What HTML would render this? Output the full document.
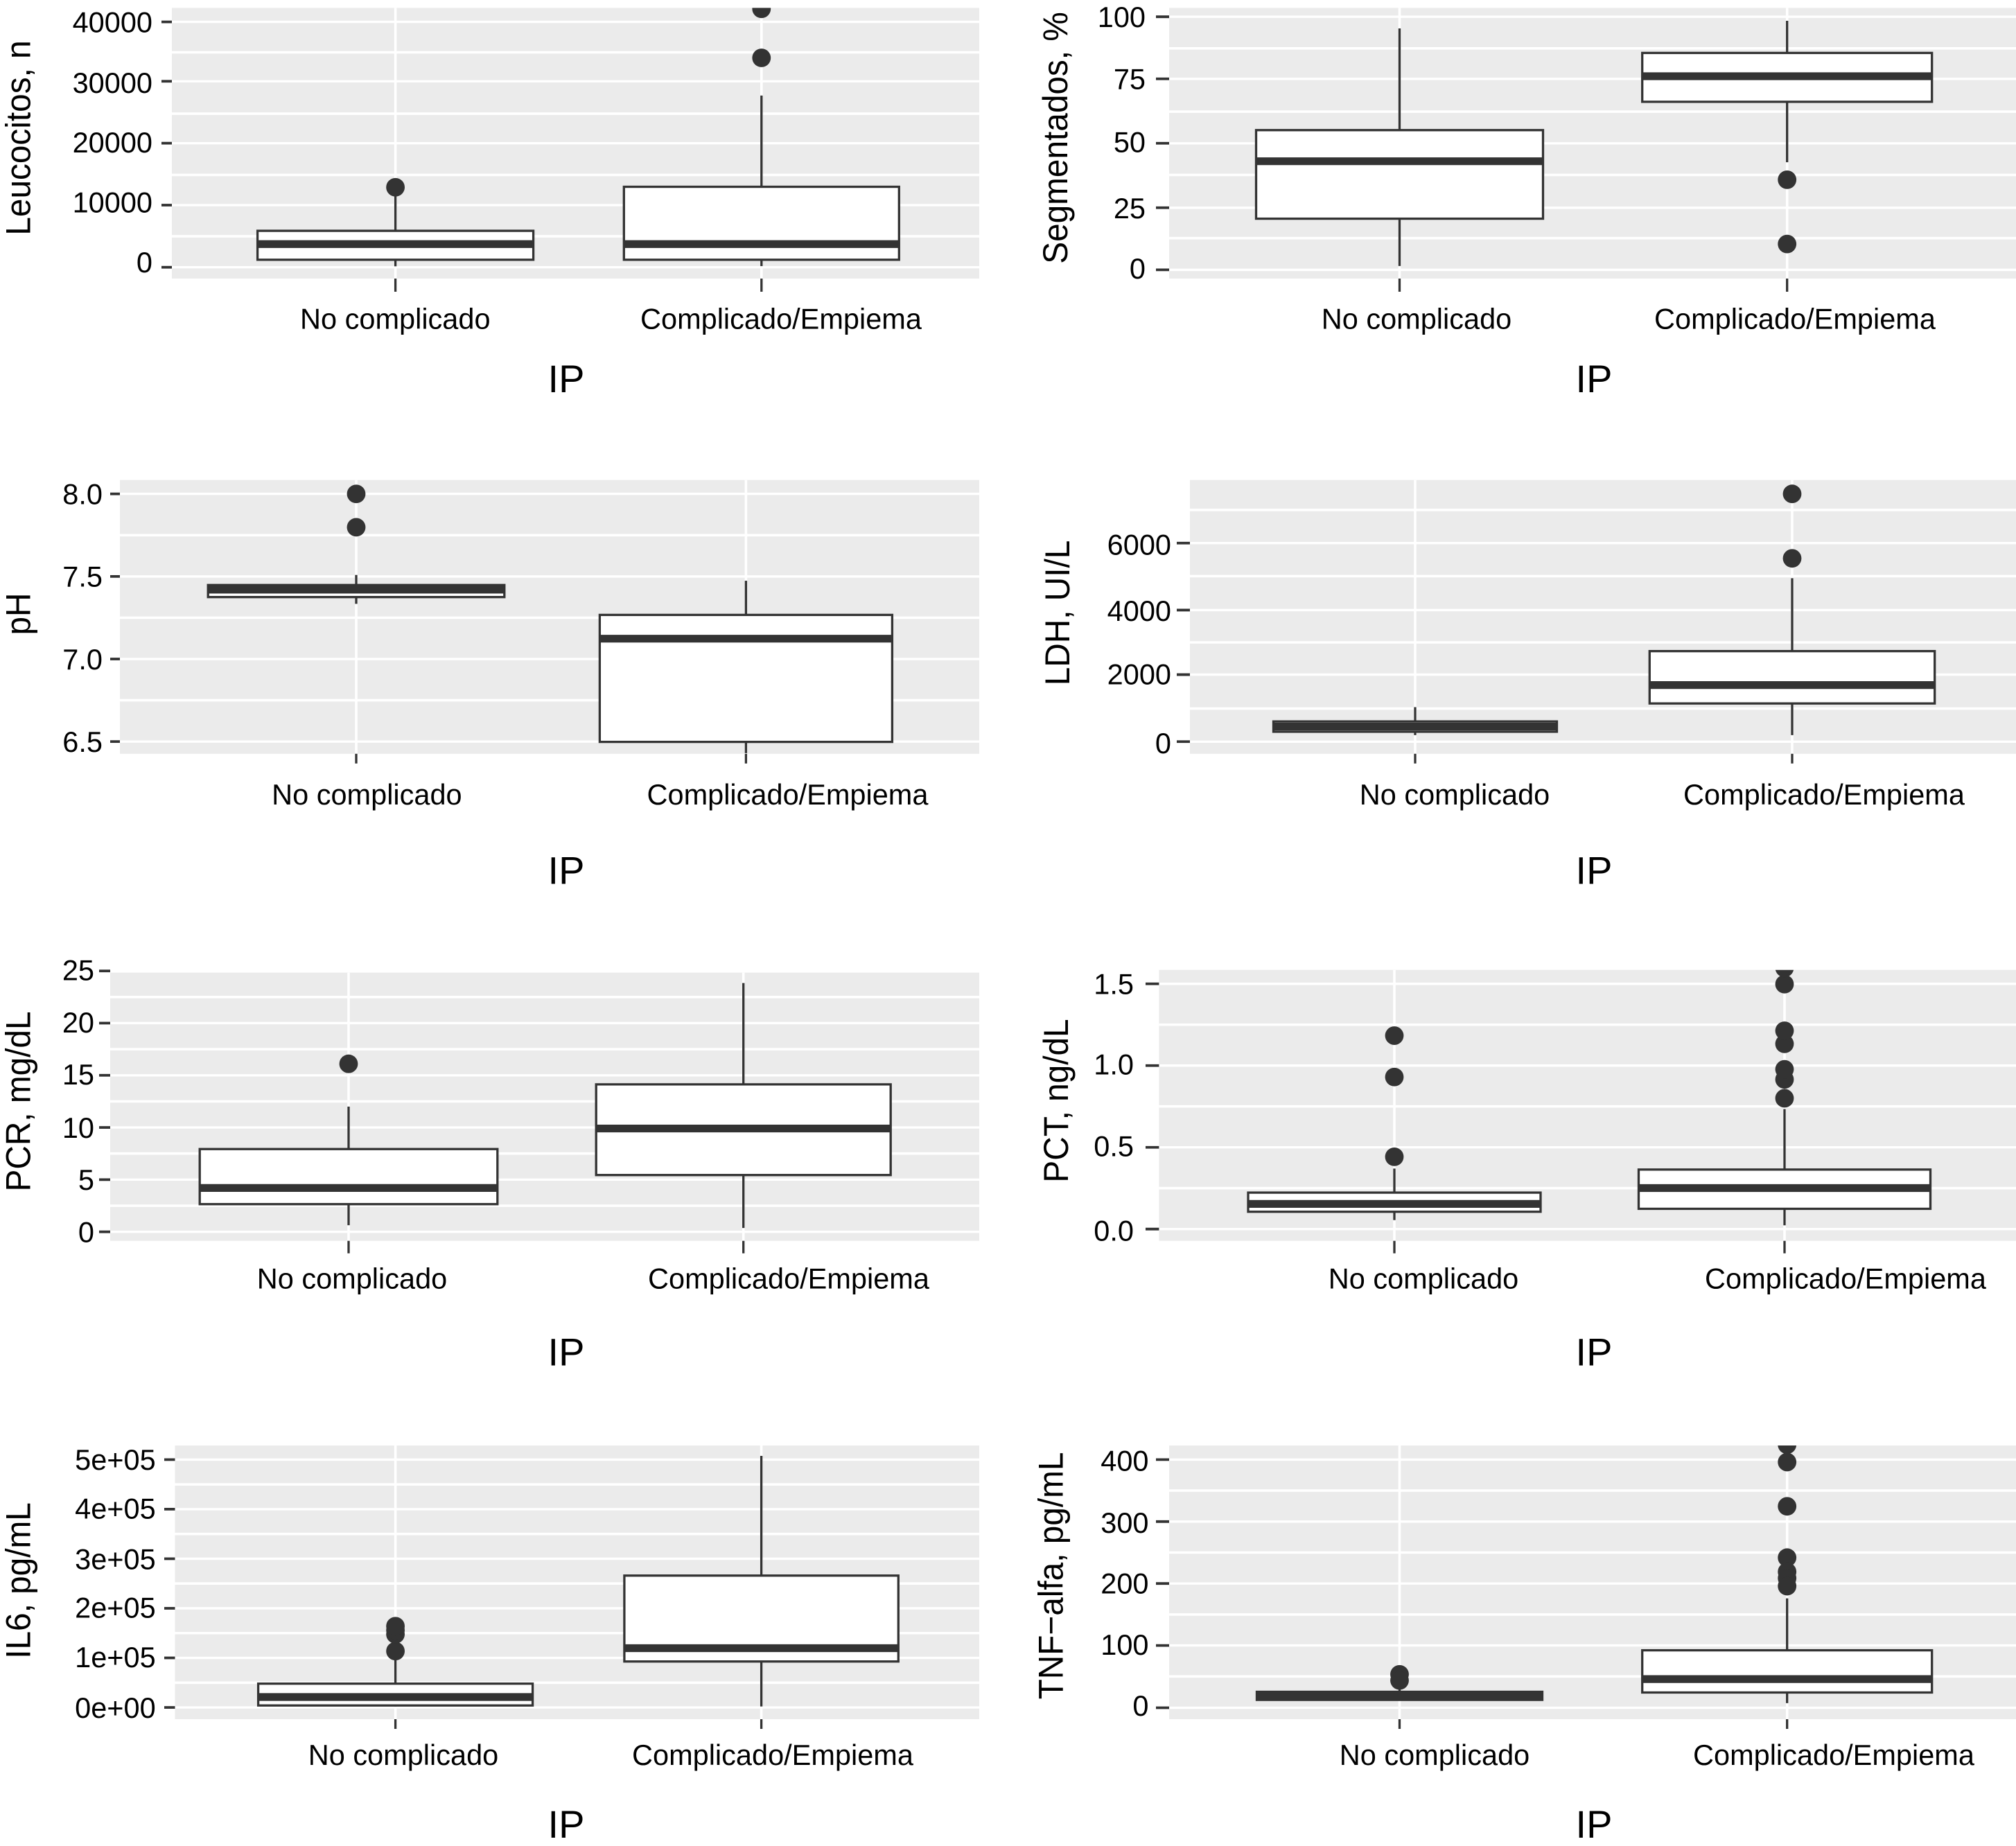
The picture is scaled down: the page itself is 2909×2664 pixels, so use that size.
<!DOCTYPE html>
<html lang="es">
<head>
<meta charset="utf-8">
<title>Biomarcadores por tipo de IP</title>
<style>
html,body{margin:0;padding:0;background:#fff;}
#chart-figure{display:block;width:2909px;height:2664px;font-family:"Liberation Sans",Arial,sans-serif;}
</style>
</head>
<body>
<svg id="chart-figure" xmlns="http://www.w3.org/2000/svg" width="2909" height="2664" viewBox="0 0 2909 2664"></svg>
<script>
const categories = ["No complicado", "Complicado/Empiema"];
const xAxisTitle = "IP";

// Each box: [whisker low, Q1, median, Q3, whisker high]
const leucocitosTicks = [0, 10000, 20000, 30000, 40000];
const leucocitosTickLabels = ["0", "10000", "20000", "30000", "40000"];
const leucocitosBoxes = [[100, 1170, 3720, 5890, 12000], [130, 1170, 3720, 13070, 27960]];
const leucocitosOutliers = [[12990], [34100, 42100]];

const segmentadosTicks = [0, 25, 50, 75, 100];
const segmentadosTickLabels = ["0", "25", "50", "75", "100"];
const segmentadosBoxes = [[1.5, 20.2, 42.9, 55.2, 95.4], [42.5, 66.4, 76.5, 85.7, 98.4]];
const segmentadosOutliers = [[], [35.6, 10.2]];

const phTicks = [6.5, 7, 7.5, 8];
const phTickLabels = ["6.5", "7.0", "7.5", "8.0"];
const phBoxes = [[7.334, 7.375, 7.42, 7.448, 7.509], [6.43, 6.498, 7.123, 7.267, 7.474]];
const phOutliers = [[8.0, 7.798], []];

const ldhTicks = [0, 2000, 4000, 6000];
const ldhTickLabels = ["0", "2000", "4000", "6000"];
const ldhBoxes = [[197, 300, 455, 610, 1043], [197, 1154, 1709, 2735, 4940]];
const ldhOutliers = [[], [7487, 5538]];

const pcrTicks = [0, 5, 10, 15, 20, 25];
const pcrTickLabels = ["0", "5", "10", "15", "20", "25"];
const pcrBoxes = [[0.63, 2.65, 4.2, 7.93, 12], [0.37, 5.44, 9.9, 14.13, 23.84]];
const pcrOutliers = [[16.1], []];

const pctTicks = [0, 0.5, 1, 1.5];
const pctTickLabels = ["0.0", "0.5", "1.0", "1.5"];
const pctBoxes = [[0.055, 0.106, 0.154, 0.223, 0.37], [0.023, 0.124, 0.251, 0.364, 0.734]];
const pctOutliers = [[1.183, 0.93, 0.442], [0.8, 0.915, 0.977, 1.133, 1.213, 1.498, 1.597]];

const il6Ticks = [0, 100000, 200000, 300000, 400000, 500000];
const il6TickLabels = ["0e+00", "1e+05", "2e+05", "3e+05", "4e+05", "5e+05"];
const il6Boxes = [[2000, 4000, 21000, 48000, 96500], [2000, 92700, 119600, 266000, 507500]];
const il6Outliers = [[113700, 147600, 155700, 164000], []];

const tnfTicks = [0, 100, 200, 300, 400];
const tnfTickLabels = ["0", "100", "200", "300", "400"];
const tnfBoxes = [[12.2, 12.2, 18.5, 25.2, 29.7], [6.9, 24.1, 45.7, 92.2, 176]];
const tnfOutliers = [[53.4, 43.5], [396, 324.6, 241.8, 219, 208.6, 195.7, 424]];

// Layout of each panel in the figure (not data)
const panels = [
 {key:"leucocitos",title:"Leucocitos, n",ticks:leucocitosTicks,labels:leucocitosTickLabels,boxes:leucocitosBoxes,outliers:leucocitosOutliers,
  domain:[-1900,42250],rect:[248,1413,11.4,402],cx:[570.6,1098.8],hw:[199,198.5],labelX:[570.3,1127],labelY:474.5,ipX:817,ipY:566,tickL:233,yLabelR:220,tickB:19,titleX:43.5,titleY:199,
  tickShift:[0.5,-0.7,-1.6,-2.5,0.3],labelShift:[-7.2,-5,-3.3,-0.8,0.3]},
 {key:"segmentados",title:"Segmentados, %",ticks:segmentadosTicks,labels:segmentadosTickLabels,boxes:segmentadosBoxes,outliers:segmentadosOutliers,
  domain:[-3.46,103.5],rect:[1687,2909,11.4,402],cx:[2019.5,2578.7],hw:[207,209],labelX:[2044,2590],labelY:474.5,ipX:2300,ipY:566,tickL:1668,yLabelR:1653,tickB:19,titleX:1540,titleY:199,
  tickShift:[0,1.7,0,-1.7,0],labelShift:[-2,2,-2,-2,0]},
 {key:"ph",title:"pH",ticks:phTicks,labels:phTickLabels,boxes:phBoxes,outliers:phOutliers,
  domain:[6.426,8.084],rect:[173,1413,692.7,1087.8],cx:[514,1076.4],hw:[213.8,211],labelX:[529.4,1136.5],labelY:1161,ipX:817,ipY:1275.5,tickL:159,yLabelR:148,tickB:14,titleX:43.5,titleY:886,
  tickShift:[0,0,0,0],labelShift:[0,0,0,0]},
 {key:"ldh",title:"LDH, UI/L",ticks:ldhTicks,labels:ldhTickLabels,boxes:ldhBoxes,outliers:ldhOutliers,
  domain:[-367,7906],rect:[1717,2909,692.7,1087.8],cx:[2042,2586],hw:[204.5,205.7],labelX:[2099,2632],labelY:1161,ipX:2300,ipY:1275.5,tickL:1698,yLabelR:1690,tickB:14,titleX:1543,titleY:884.5,
  tickShift:[0,-1.2,1.2,0],labelShift:[2,-2,2,2]},
 {key:"pcr",title:"PCR, mg/dL",ticks:pcrTicks,labels:pcrTickLabels,boxes:pcrBoxes,outliers:pcrOutliers,
  domain:[-0.867,24.84],rect:[159,1413,1403.6,1790.7],cx:[503,1072.7],hw:[214.8,212.5],labelX:[508,1138],labelY:1859.5,ipX:817,ipY:1970.5,tickL:143,yLabelR:136,tickB:18,titleX:43.5,titleY:1589.5,
  tickShift:[0,0,0,0,0,0],labelShift:[0,0,0,-1.5,-1.5,-1.5]},
 {key:"pct",title:"PCT, ng/dL",ticks:pctTicks,labels:pctTickLabels,boxes:pctBoxes,outliers:pctOutliers,
  domain:[-0.072,1.585],rect:[1672.4,2909,1399.7,1790.7],cx:[2012,2575],hw:[211,210.5],labelX:[2054,2663],labelY:1859.5,ipX:2300,ipY:1970.5,tickL:1653,yLabelR:1636,tickB:18,titleX:1541,titleY:1588.5,
  tickShift:[0,0,0,0],labelShift:[2,-2,-2,0]},
 {key:"il6",title:"IL6, pg/mL",ticks:il6Ticks,labels:il6TickLabels,boxes:il6Boxes,outliers:il6Outliers,
  domain:[-23700,528500],rect:[252.5,1413,2086,2481],cx:[570.6,1098.6],hw:[198,197.7],labelX:[582,1115],labelY:2547,ipX:817,ipY:2652,tickL:237,yLabelR:224.7,tickB:14,titleX:43.5,titleY:2281,
  tickShift:[0,0,0,0,0,0],labelShift:[0,-1.5,-1.5,0,-1.5,0]},
 {key:"tnf",title:"TNF\u2212alfa, pg/mL",ticks:tnfTicks,labels:tnfTickLabels,boxes:tnfBoxes,outliers:tnfOutliers,
  domain:[-19,422.8],rect:[1687,2909,2086,2481],cx:[2019.5,2578.7],hw:[206,209],labelX:[2070,2646],labelY:2547,ipX:2300,ipY:2652,tickL:1668,yLabelR:1657.5,tickB:14,titleX:1533.5,titleY:2274,
  tickShift:[0.5,0,0,0,0],labelShift:[-3,-1.7,-0.7,1.3,1.3]}
];

const SVGNS = "http://www.w3.org/2000/svg";
const INK = "#333333", PANEL_BG = "#EBEBEB", LW = 3.3, FS = 41.5, TITLE_FS = 50, TITLE_SQUEEZE = 0.955, IP_FS = 56;
const figure = document.getElementById("chart-figure");

function make(tag, attrs, parent, text) {
  const node = document.createElementNS(SVGNS, tag);
  for (const k in attrs) node.setAttribute(k, attrs[k]);
  if (text !== undefined) node.textContent = text;
  parent.appendChild(node);
  return node;
}

function drawPanel(p) {
  const [left, right, top, bottom] = p.rect;
  const [d0, d1] = p.domain;
  const y = v => bottom - (v - d0) / (d1 - d0) * (bottom - top);

  const g = make("g", {}, figure);
  
  

  const defs = make("defs", {}, g);
  const clip = make("clipPath", {id: "clip-" + p.key}, defs);
  make("rect", {x: left, y: top, width: right - left, height: bottom - top}, clip);

  const bg = make("rect", {x: left, y: top, width: right - left, height: bottom - top, fill: PANEL_BG}, g);
  
  

  const plot = make("g", {"clip-path": "url(#clip-" + p.key + ")"}, g);
  
  

  // grid
  const step = p.ticks[1] - p.ticks[0];
  const minors = [p.ticks[0] - step / 2];
  p.ticks.forEach(t => minors.push(t + step / 2));
  minors.forEach(v => {
    if (v <= d0 || v >= d1) return;
    const line = make("line", {x1: left, x2: right, y1: y(v), y2: y(v), stroke: "#fff", "stroke-width": 3.6}, plot);
    
    
  });
  p.ticks.forEach((v, i) => {
    const gy = y(v) + p.tickShift[i];
    const line = make("line", {x1: left, x2: right, y1: gy, y2: gy, stroke: "#fff", "stroke-width": 3.4}, plot);
    
    
  });
  p.cx.forEach(cx => {
    const line = make("line", {x1: cx, x2: cx, y1: top, y2: bottom, stroke: "#fff", "stroke-width": 3.6}, plot);
    
    
  });

  // boxes
  p.boxes.forEach((b, i) => {
    const cx = p.cx[i], hw = p.hw[i];
    const [lo, q1, med, q3, hi] = b;
    const box = make("g", {}, plot);
    
    

    const upper = make("line", {x1: cx, x2: cx, y1: y(q3), y2: y(hi), stroke: INK, "stroke-width": LW}, box);
    
    

    const lower = make("line", {x1: cx, x2: cx, y1: y(q1), y2: y(lo), stroke: INK, "stroke-width": LW}, box);
    
    

    const rect = make("rect", {x: cx - hw, y: y(q3), width: 2 * hw, height: y(q1) - y(q3), fill: "#fff", stroke: INK, "stroke-width": LW}, box);
    
    

    const medLine = make("line", {x1: cx - hw, x2: cx + hw, y1: y(med), y2: y(med), stroke: INK, "stroke-width": 11.2}, box);
    
    

    p.outliers[i].forEach(v => {
      const dot = make("circle", {cx: cx, cy: y(v), r: 13.4, fill: INK}, box);
      
      
    });
  });

  // y axis
  p.ticks.forEach((v, i) => {
    const gy = y(v) + p.tickShift[i];
    const tick = make("line", {x1: p.tickL, x2: left, y1: gy, y2: gy, stroke: INK, "stroke-width": 3.8}, g);
    
    

    const label = make("text", {x: p.yLabelR, y: y(v) + p.labelShift[i] + FS * 0.358, "text-anchor": "end", "font-size": FS, fill: "#000"}, g, p.labels[i]);
    
    
  });

  // x axis
  categories.forEach((c, i) => {
    const tick = make("line", {x1: p.cx[i], x2: p.cx[i], y1: bottom, y2: bottom + p.tickB, stroke: INK, "stroke-width": 3.3}, g);
    
    

    const label = make("text", {x: p.labelX[i], y: p.labelY, "text-anchor": "middle", "font-size": FS, fill: "#000"}, g, c);
    
    
  });

  const xTitle = make("text", {x: p.ipX, y: p.ipY, "text-anchor": "middle", "font-size": IP_FS, fill: "#000"}, g, xAxisTitle);
  
  

  const yTitle = make("text", {x: 0, y: 0, transform: "translate(" + p.titleX + "," + p.titleY + ") rotate(-90) scale(" + TITLE_SQUEEZE + ",1)", "text-anchor": "middle", "font-size": TITLE_FS, fill: "#000"}, g, p.title);
  
  
}

panels.forEach(drawPanel);
</script>
</body>
</html>
